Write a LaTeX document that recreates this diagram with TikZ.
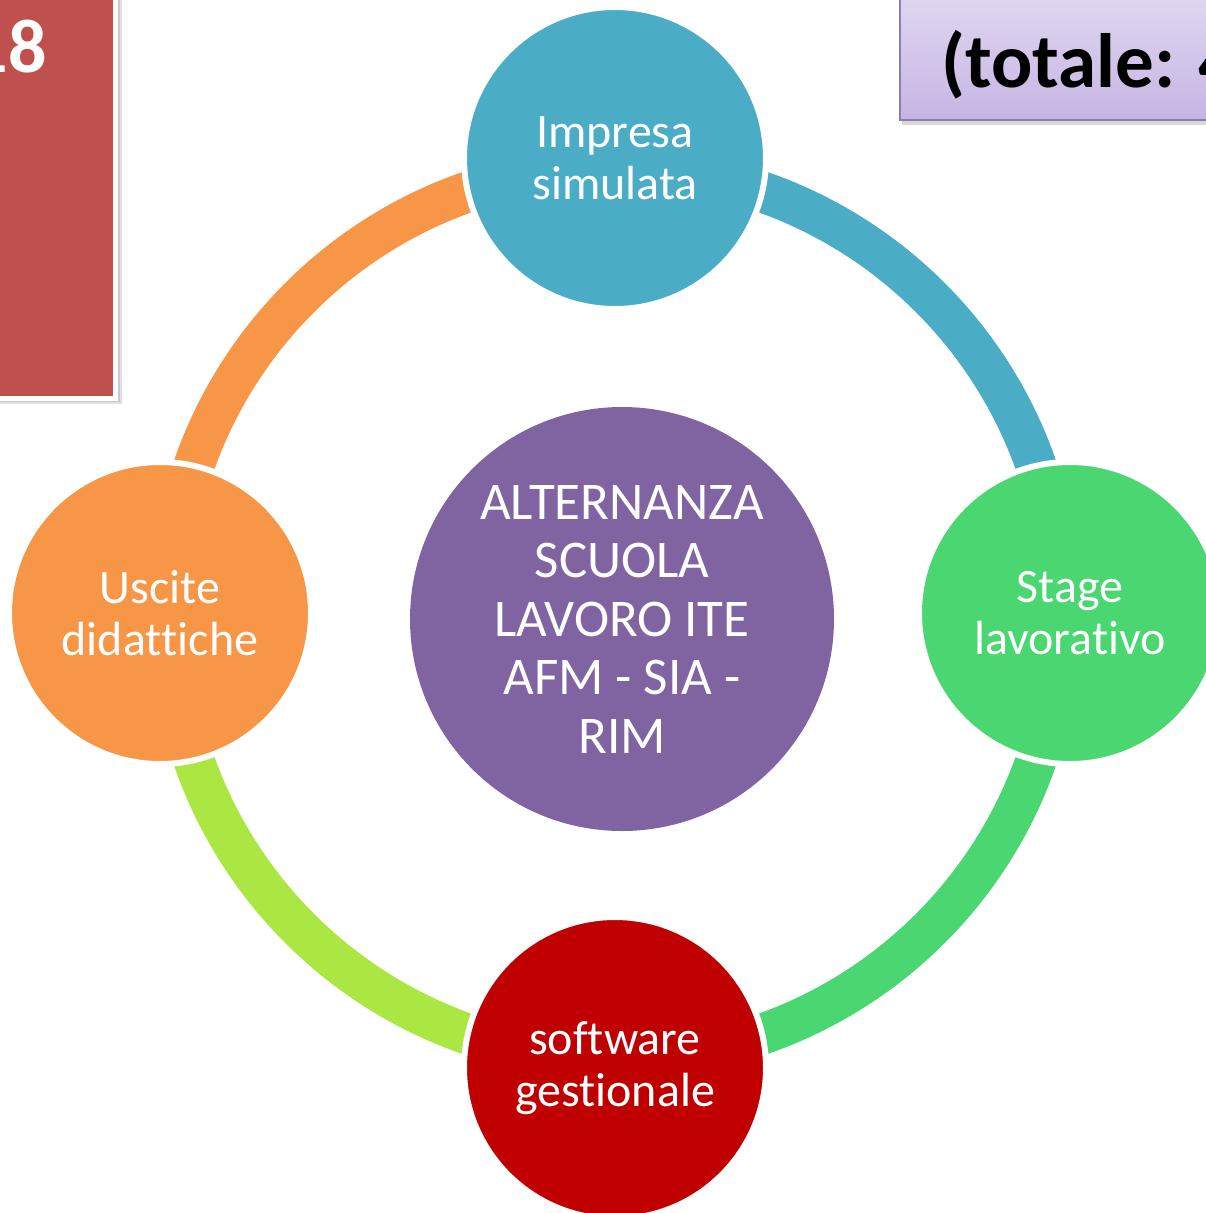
\documentclass[tikz,border=0pt]{standalone}
\usepackage{fontspec}
\setmainfont{Carlito}[Ligatures=NoCommon]
\newcommand\nolig{\kern0pt{}}
\definecolor{cBlue}{HTML}{4BACC6}
\definecolor{cGreen}{HTML}{4AD670}
\definecolor{cLime}{HTML}{ABE743}
\definecolor{cOrange}{HTML}{F79646}
\definecolor{cRed}{HTML}{C00000}
\definecolor{cPurple}{HTML}{8064A2}
\definecolor{cBox}{HTML}{C0504D}
\definecolor{cLavTop}{HTML}{E3DAF3}
\definecolor{cLavBot}{HTML}{C6B5E3}
\definecolor{cLavLine}{HTML}{8E7AB5}
\tikzset{
  ringarc/.style={line width=41pt},
  satnode/.style={circle, draw=white, line width=6pt, minimum size=302pt, inner sep=0pt,
    text=white, align=center, font=\fontsize{48}{52}\selectfont},
  hubnode/.style={circle, fill=cPurple, minimum size=424pt, inner sep=0pt,
    text=white, align=center, font=\fontsize{53}{58.5}\selectfont},
}
\begin{document}
\begin{tikzpicture}[x=1pt,y=-1pt]
\useasboundingbox (0,0) rectangle (1206,1213);
\clip (0,0) rectangle (1206,1213);
% top-left red box
\fill[black,opacity=0.12] (-20,-20) rectangle (122,404);
\fill[black,opacity=0.10] (-20,-20) rectangle (120,402);
\draw[white, line width=5pt, fill=cBox] (-20,-20) rectangle (115.5,398.5);
\node[anchor=base east, inner sep=0pt, text=white, font=\fontsize{76}{80}\selectfont\bfseries] (yr) at (47,72) {18};
% top-right lavender box
\fill[black,opacity=0.15] (902,-20) rectangle (1230,125);
\shade[top color=cLavTop, bottom color=cLavBot] (900,-20) rectangle (1230,120);
\draw[cLavLine, line width=2pt] (900,-20) rectangle (1230,120);
\node[anchor=base west, inner sep=0pt, text=black, font=\fontsize{77}{80}\selectfont\bfseries] (tot) at (941,87) {(totale: 4};
% ring
\coordinate (rc) at (615,613);
\draw[ringarc, cBlue]   (rc) ++(90:446pt) arc[start angle=90, end angle=0, radius=446pt];
\draw[ringarc, cGreen]  (rc) ++(0:446pt) arc[start angle=0, end angle=-90, radius=446pt];
\draw[ringarc, cLime]   (rc) ++(-90:446pt) arc[start angle=-90, end angle=-180, radius=446pt];
\draw[ringarc, cOrange] (rc) ++(180:446pt) arc[start angle=180, end angle=90, radius=446pt];
% nodes
\node[hubnode] (hub) at (622,619) {ALTERNANZA\\SCUOLA\\LAVORO ITE\\AFM - SIA -\\RIM};
\node[satnode, fill=cBlue] (top) at (615,158) {Impresa\\simulata};
\node[satnode, fill=cGreen] (right) at (1070,613) {Stage\\lavorat\nolig ivo};
\node[satnode, fill=cRed] (bottom) at (615,1068) {sof\nolig t\nolig ware\\gest\nolig ionale};
\node[satnode, fill=cOrange] (left) at (160,613) {Uscite\\didat\nolig t\nolig iche};
\end{tikzpicture}
\end{document}
